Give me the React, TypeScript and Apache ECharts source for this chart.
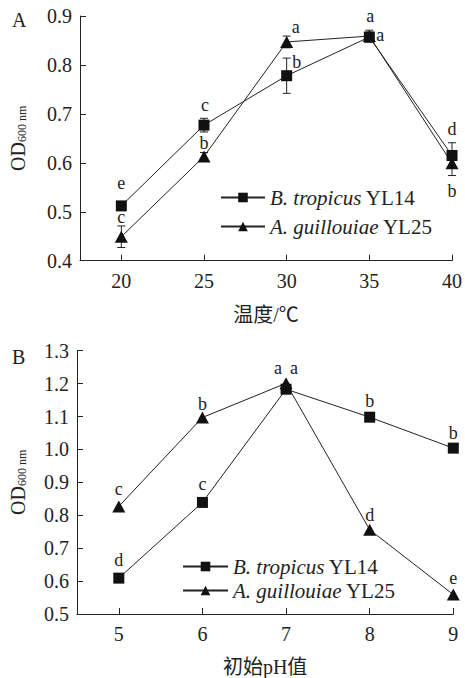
import React, { useEffect, useRef } from 'react';
import * as echarts from 'echarts';

// ---- Panel A: temperature ----
const tempValues = [20, 25, 30, 35, 40];
const tempTropicus = [0.512, 0.677, 0.778, 0.857, 0.615];
const tempTropicusErr = [0.006, 0.014, 0.036, 0.01, 0.026];
const tempGuillouiae = [0.449, 0.613, 0.847, 0.859, 0.599];
const tempGuillouiaeErr = [0.022, 0.008, 0.012, 0.012, 0.025];
const tempTropicusLetters = ['e', 'c', 'b', 'a', 'd'];
const tempGuillouiaeLetters = ['c', 'b', 'a', 'a', 'b'];

// ---- Panel B: initial pH ----
const phValues = [5, 6, 7, 8, 9];
const phTropicus = [0.609, 0.839, 1.183, 1.098, 1.004];
const phGuillouiae = [0.827, 1.097, 1.201, 0.756, 0.559];
const phTropicusLetters = ['d', 'c', 'a', 'b', 'b'];
const phGuillouiaeLetters = ['c', 'b', 'a', 'd', 'e'];

const seriesNames = ['B. tropicus YL14', 'A. guillouiae YL25'];

// label offsets (px, relative to the marker centre)
const tempTropicusOffsets = [[0, -23], [1, -20], [10, -14], [1, -21], [0, -26]];
const tempGuillouiaeOffsets = [[0, -20], [0, -13], [9, -15], [11, -1], [0, 28]];
const phTropicusOffsets = [[0, -18], [0, -18], [-8, -21], [0, -16], [0, -15]];
const phGuillouiaeOffsets = [[0, -17], [0, -14], [8, -15], [0, -15], [0, -17]];

const SERIF = "'Liberation Serif', serif";
const CJK = "'Liberation Serif', 'Noto Sans CJK SC', serif";
const INK = '#222';

function lineData(xs: number[], ys: number[], letters: string[], offsets: number[][]) {
  return xs.map((x, i) => ({
    value: [x, ys[i]],
    label: {
      show: true,
      position: 'inside',
      offset: offsets[i],
      formatter: letters[i],
      color: INK,
      fontFamily: SERIF,
      fontSize: 18,
    },
  }));
}

function errData(xs: number[], ys: number[], errs: number[]) {
  return xs.map((x, i) => [x, ys[i] - errs[i], ys[i] + errs[i]]);
}

function errRender(params: any, api: any) {
  const x = api.value(0);
  const lo = api.coord([x, api.value(1)]);
  const hi = api.coord([x, api.value(2)]);
  const w = 4;
  const style = { stroke: INK, lineWidth: 1 };
  return {
    type: 'group',
    children: [
      { type: 'line', shape: { x1: lo[0], y1: lo[1], x2: hi[0], y2: hi[1] }, style },
      { type: 'line', shape: { x1: lo[0] - w, y1: lo[1], x2: lo[0] + w, y2: lo[1] }, style },
      { type: 'line', shape: { x1: hi[0] - w, y1: hi[1], x2: hi[0] + w, y2: hi[1] }, style },
    ],
  };
}

const legendFormatter = (name: string) => {
  const parts = name.split(' ');
  return `{i|${parts[0]} ${parts[1]}}{n| ${parts[2]}}`;
};

const legendRich = {
  i: { fontFamily: SERIF, fontStyle: 'italic', fontSize: 21, color: INK, lineHeight: 20 },
  n: { fontFamily: SERIF, fontSize: 21, color: INK, lineHeight: 20 },
};

export default function App() {
  const ref = useRef<HTMLDivElement>(null);
  useEffect(() => {
    if (!ref.current) return;
    const chart = echarts.init(ref.current, null, { renderer: 'svg' });

    const axisLine = { show: true, lineStyle: { color: INK, width: 1 } };
    const axisTick = { show: true, inside: true, length: 6, lineStyle: { color: INK, width: 1 } };
    const axisLabel = { color: INK, fontFamily: SERIF, fontSize: 20 };
    const yName = '{a|OD}{b|600 nm}';
    const yNameStyle = {
      color: INK,
      rich: {
        a: { fontFamily: SERIF, fontSize: 20, color: INK, verticalAlign: 'bottom', lineHeight: 22 },
        b: { fontFamily: SERIF, fontSize: 12, color: INK, verticalAlign: 'bottom', lineHeight: 14 },
      },
    };

    const option: any = {
      animation: false,
      backgroundColor: '#fff',
      grid: [
        { left: 77, top: 16, right: 11.7, height: 244.7 },
        { left: 74, top: 350.7, right: 11.7, height: 263.6 },
      ],
      xAxis: [
        {
          gridIndex: 0, type: 'value', min: 17.5, max: 40, splitNumber: 5, minInterval: 5, maxInterval: 5,
          axisLine, axisTick, splitLine: { show: false },
          axisLabel: { ...axisLabel, margin: 10, formatter: (v: number) => (v % 5 === 0 ? String(v) : '') },
          name: '温度/℃', nameLocation: 'middle', nameGap: 44,
          nameTextStyle: { fontFamily: CJK, fontSize: 20, color: INK },
        },
        {
          gridIndex: 1, type: 'value', min: 4.5, max: 9, splitNumber: 5, minInterval: 1, maxInterval: 1,
          axisLine, axisTick, splitLine: { show: false },
          axisLabel: { ...axisLabel, margin: 10, formatter: (v: number) => (v % 1 === 0 ? String(v) : '') },
          name: '初始pH值', nameLocation: 'middle', nameGap: 43,
          nameTextStyle: { fontFamily: CJK, fontSize: 20, color: INK },
        },
      ],
      yAxis: [
        {
          gridIndex: 0, type: 'value', min: 0.4, max: 0.9, interval: 0.1,
          axisLine, axisTick, splitLine: { show: false },
          axisLabel: { ...axisLabel, margin: 8, formatter: (v: number) => v.toFixed(1) },
          name: yName, nameLocation: 'middle', nameGap: 52, nameRotate: 90, nameTextStyle: yNameStyle,
        },
        {
          gridIndex: 1, type: 'value', min: 0.5, max: 1.3, interval: 0.1,
          axisLine, axisTick, splitLine: { show: false },
          axisLabel: { ...axisLabel, margin: 8, formatter: (v: number) => v.toFixed(1) },
          name: yName, nameLocation: 'middle', nameGap: 49, nameRotate: 90, nameTextStyle: yNameStyle,
        },
      ],
      legend: [
        {
          orient: 'vertical', left: 215, top: 182, itemWidth: 44, itemHeight: 12, itemGap: 8,
          data: seriesNames, formatter: legendFormatter, textStyle: { rich: legendRich },
        },
        {
          orient: 'vertical', left: 177, top: 551, itemWidth: 45, itemHeight: 12, itemGap: 3,
          data: seriesNames, formatter: legendFormatter, textStyle: { rich: legendRich },
        },
      ],
      graphic: [
        { type: 'text', left: 12, top: 10, style: { text: 'A', font: `20px ${SERIF}`, fill: INK } },
        { type: 'text', left: 12, top: 347, style: { text: 'B', font: `20px ${SERIF}`, fill: INK } },
      ],
      series: [
        {
          type: 'custom', xAxisIndex: 0, yAxisIndex: 0, renderItem: errRender,
          data: errData(tempValues, tempTropicus, tempTropicusErr), z: 1,
        },
        {
          type: 'custom', xAxisIndex: 0, yAxisIndex: 0, renderItem: errRender,
          data: errData(tempValues, tempGuillouiae, tempGuillouiaeErr), z: 1,
        },
        {
          name: seriesNames[0], type: 'line', xAxisIndex: 0, yAxisIndex: 0,
          symbol: 'rect', symbolSize: 11, itemStyle: { color: '#111' }, lineStyle: { color: INK, width: 1 },
          data: lineData(tempValues, tempTropicus, tempTropicusLetters, tempTropicusOffsets), z: 3,
        },
        {
          name: seriesNames[1], type: 'line', xAxisIndex: 0, yAxisIndex: 0,
          symbol: 'triangle', symbolSize: [13, 12], itemStyle: { color: '#111' }, lineStyle: { color: INK, width: 1 },
          data: lineData(tempValues, tempGuillouiae, tempGuillouiaeLetters, tempGuillouiaeOffsets), z: 3,
        },
        {
          name: seriesNames[0], type: 'line', xAxisIndex: 1, yAxisIndex: 1,
          symbol: 'rect', symbolSize: 11, itemStyle: { color: '#111' }, lineStyle: { color: INK, width: 1 },
          data: lineData(phValues, phTropicus, phTropicusLetters, phTropicusOffsets), z: 3,
        },
        {
          name: seriesNames[1], type: 'line', xAxisIndex: 1, yAxisIndex: 1,
          symbol: 'triangle', symbolSize: [13, 12], itemStyle: { color: '#111' }, lineStyle: { color: INK, width: 1 },
          data: lineData(phValues, phGuillouiae, phGuillouiaeLetters, phGuillouiaeOffsets), z: 3,
        },
      ],
    };
    chart.setOption(option);
    return () => chart.dispose();
  }, []);

  return (
    <div
      ref={ref}
      style={{ position: 'fixed', left: 0, top: 0, width: 465, height: 678, background: '#fff' }}
    />
  );
}
